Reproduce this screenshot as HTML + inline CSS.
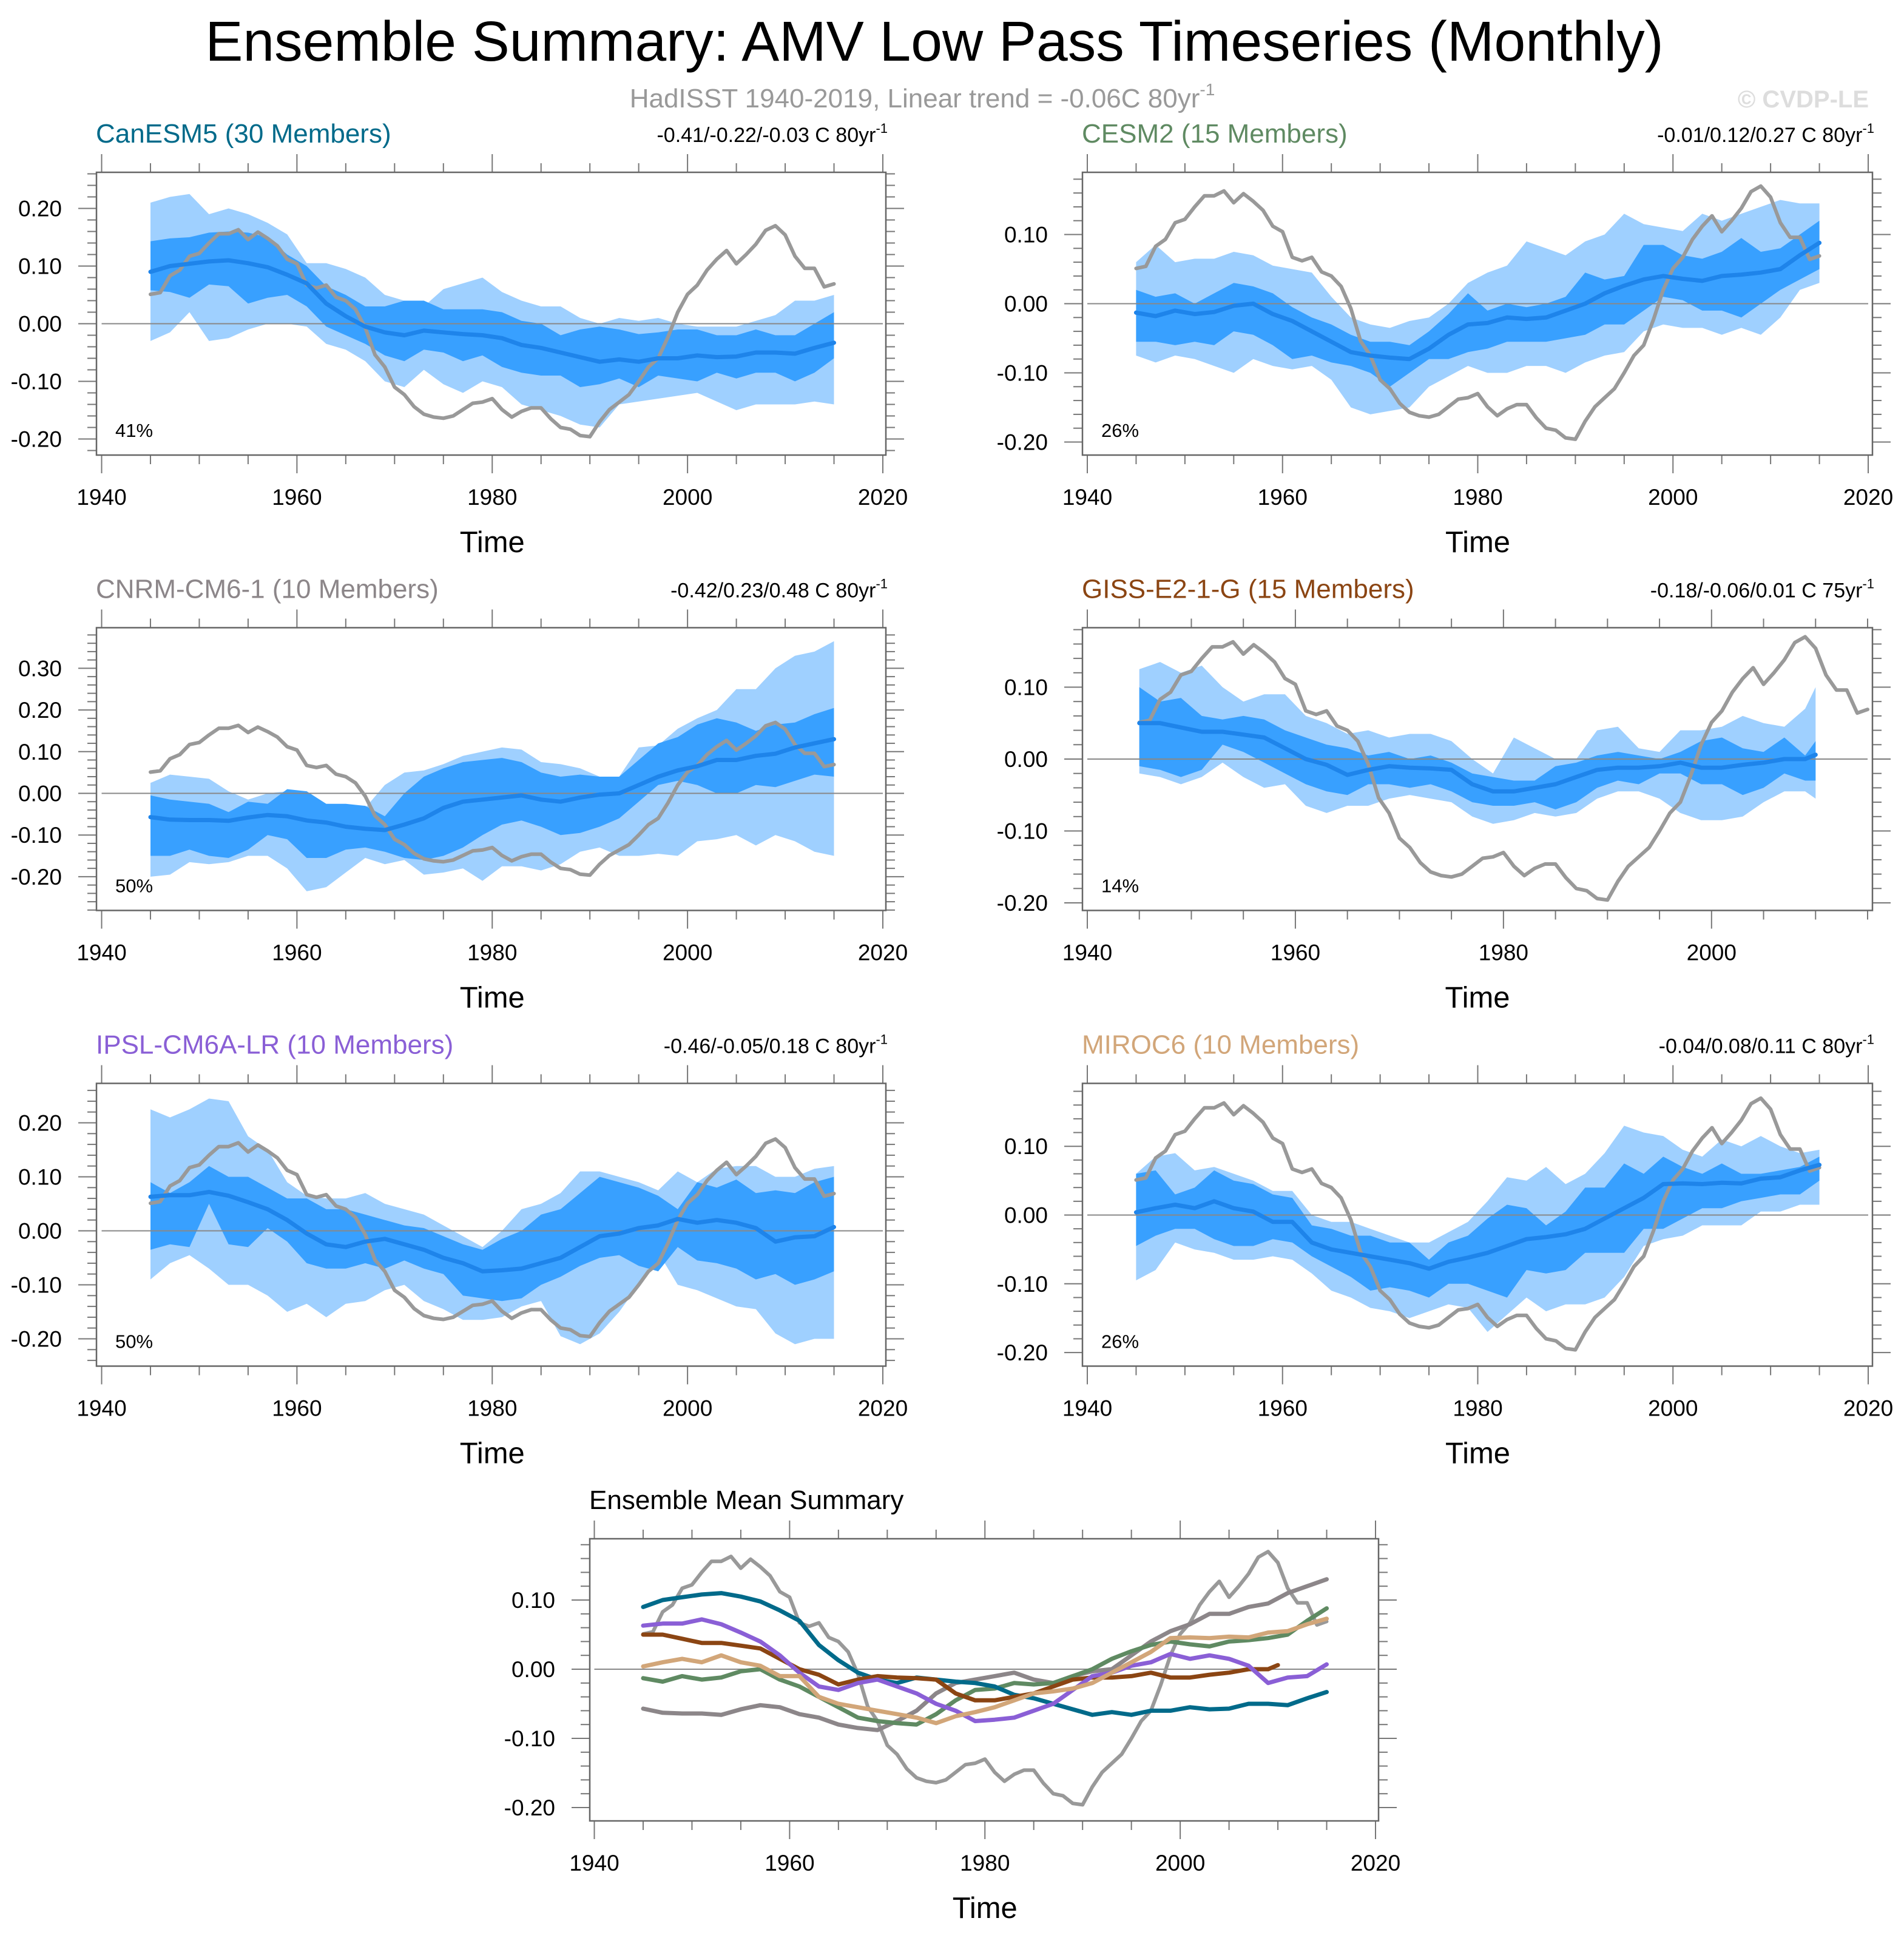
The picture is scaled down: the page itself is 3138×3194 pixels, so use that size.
<!DOCTYPE html>
<html><head><meta charset="utf-8"><title>Ensemble Summary: AMV Low Pass Timeseries</title>
<style>
html,body{margin:0;padding:0;background:#fff;}
svg{display:block;font-family:"Liberation Sans",Arial,sans-serif;}
</style></head>
<body>
<svg id="fig" xmlns="http://www.w3.org/2000/svg" width="3138" height="3194" viewBox="0 0 3138 3194">
<rect x="0" y="0" width="3138" height="3194" fill="#fff"/>
<text x="1540" y="100" font-size="93" text-anchor="middle" fill="#000">Ensemble Summary: AMV Low Pass Timeseries (Monthly)</text>
<text x="1520" y="177" font-size="44" text-anchor="middle" fill="#999">HadISST 1940-2019, Linear trend = -0.06C 80yr<tspan font-size="28" dy="-20">-1</tspan></text>
<text x="3080" y="177" font-size="40" font-weight="bold" text-anchor="end" fill="#ddd">© CVDP-LE</text>
</svg>
<script>
const obsYears=[1945,1946,1947,1948,1949,1950,1951,1952,1953,1954,1955,1956,1957,1958,1959,1960,1961,1962,1963,1964,1965,1966,1967,1968,1969,1970,1971,1972,1973,1974,1975,1976,1977,1978,1979,1980,1981,1982,1983,1984,1985,1986,1987,1988,1989,1990,1991,1992,1993,1994,1995,1996,1997,1998,1999,2000,2001,2002,2003,2004,2005,2006,2007,2008,2009,2010,2011,2012,2013,2014,2015];
const obsValues=[0.051,0.054,0.083,0.093,0.117,0.122,0.14,0.156,0.156,0.163,0.146,0.159,0.148,0.135,0.112,0.104,0.067,0.062,0.067,0.046,0.04,0.025,-0.007,-0.054,-0.075,-0.11,-0.123,-0.144,-0.157,-0.162,-0.164,-0.16,-0.149,-0.138,-0.136,-0.13,-0.149,-0.162,-0.152,-0.146,-0.146,-0.165,-0.18,-0.183,-0.194,-0.196,-0.17,-0.149,-0.136,-0.123,-0.10,-0.075,-0.06,-0.023,0.02,0.051,0.067,0.093,0.112,0.127,0.104,0.12,0.138,0.162,0.17,0.154,0.117,0.096,0.096,0.064,0.069];

const modelYears=[1945,1947,1949,1951,1953,1955,1957,1959,1961,1963,1965,1967,1969,1971,1973,1975,1977,1979,1981,1983,1985,1987,1989,1991,1993,1995,1997,1999,2001,2003,2005,2007,2009,2011,2013,2015];
const gissYears=[1945,1947,1949,1951,1953,1955,1957,1959,1961,1963,1965,1967,1969,1971,1973,1975,1977,1979,1981,1983,1985,1987,1989,1991,1993,1995,1997,1999,2001,2003,2005,2007,2009,2010];

const canMean=[0.09,0.1,0.104,0.108,0.11,0.105,0.098,0.085,0.07,0.035,0.013,-0.005,-0.015,-0.02,-0.012,-0.015,-0.018,-0.02,-0.025,-0.037,-0.042,-0.05,-0.058,-0.066,-0.062,-0.066,-0.06,-0.06,-0.055,-0.058,-0.057,-0.05,-0.05,-0.052,-0.042,-0.033];
const canP75=[0.143,0.148,0.15,0.158,0.16,0.158,0.15,0.12,0.1,0.065,0.05,0.03,0.03,0.04,0.04,0.025,0.025,0.025,0.02,0.005,0.0,-0.02,-0.01,-0.005,-0.01,-0.018,-0.015,-0.01,-0.01,-0.02,-0.02,-0.01,-0.02,-0.02,0.0,0.02];
const canP25=[0.058,0.055,0.045,0.068,0.065,0.035,0.045,0.05,0.03,-0.005,-0.02,-0.035,-0.055,-0.065,-0.045,-0.05,-0.065,-0.055,-0.075,-0.085,-0.09,-0.09,-0.11,-0.105,-0.095,-0.11,-0.09,-0.095,-0.1,-0.085,-0.095,-0.085,-0.085,-0.1,-0.085,-0.06];
const canP90=[0.21,0.22,0.225,0.19,0.2,0.19,0.175,0.155,0.105,0.105,0.095,0.08,0.05,0.04,0.03,0.06,0.07,0.08,0.055,0.04,0.03,0.03,0.01,0.0,0.01,0.005,0.01,0.0,-0.005,-0.005,-0.005,0.005,0.015,0.04,0.04,0.05];
const canP10=[-0.03,-0.015,0.02,-0.03,-0.025,-0.01,0.0,0.0,-0.005,-0.035,-0.045,-0.065,-0.1,-0.11,-0.08,-0.105,-0.12,-0.1,-0.11,-0.14,-0.15,-0.16,-0.175,-0.18,-0.14,-0.135,-0.13,-0.125,-0.12,-0.135,-0.15,-0.14,-0.14,-0.14,-0.135,-0.14];

const cesmMean=[-0.013,-0.018,-0.01,-0.015,-0.012,-0.003,0.0,-0.015,-0.025,-0.04,-0.055,-0.07,-0.075,-0.078,-0.08,-0.065,-0.045,-0.03,-0.028,-0.02,-0.022,-0.02,-0.01,0.0,0.015,0.026,0.035,0.04,0.036,0.033,0.04,0.042,0.045,0.05,0.07,0.088];
const cesmP75=[0.02,0.01,0.015,0.0,0.015,0.03,0.025,0.015,-0.005,-0.02,-0.03,-0.045,-0.055,-0.055,-0.06,-0.04,-0.015,0.015,-0.01,0.0,-0.005,0.0,0.01,0.045,0.035,0.04,0.085,0.085,0.07,0.065,0.075,0.095,0.075,0.08,0.1,0.12];
const cesmP25=[-0.055,-0.055,-0.06,-0.055,-0.06,-0.04,-0.045,-0.06,-0.08,-0.075,-0.085,-0.09,-0.1,-0.12,-0.1,-0.08,-0.08,-0.07,-0.065,-0.055,-0.055,-0.055,-0.05,-0.045,-0.03,-0.03,-0.01,0.01,0.005,-0.01,-0.01,-0.02,0.0,0.02,0.035,0.05];
const cesmP90=[0.06,0.085,0.06,0.065,0.065,0.075,0.07,0.055,0.05,0.045,0.01,-0.02,-0.03,-0.035,-0.025,-0.02,0.0,0.03,0.045,0.055,0.09,0.08,0.07,0.09,0.1,0.13,0.115,0.11,0.105,0.13,0.12,0.13,0.14,0.15,0.145,0.145];
const cesmP10=[-0.075,-0.085,-0.075,-0.08,-0.09,-0.1,-0.08,-0.09,-0.095,-0.09,-0.11,-0.15,-0.16,-0.155,-0.15,-0.12,-0.105,-0.09,-0.1,-0.1,-0.09,-0.09,-0.1,-0.085,-0.075,-0.07,-0.04,-0.03,-0.035,-0.035,-0.045,-0.035,-0.045,-0.02,0.02,0.03];

const cnrmMean=[-0.057,-0.063,-0.064,-0.064,-0.066,-0.058,-0.052,-0.055,-0.065,-0.07,-0.08,-0.085,-0.088,-0.075,-0.06,-0.035,-0.02,-0.015,-0.01,-0.005,-0.015,-0.02,-0.01,-0.003,0.0,0.02,0.04,0.055,0.065,0.08,0.08,0.09,0.095,0.11,0.12,0.13];
const cnrmP75=[-0.005,-0.015,-0.02,-0.025,-0.045,-0.02,-0.025,0.01,0.005,-0.025,-0.025,-0.03,-0.055,0.0,0.04,0.06,0.075,0.08,0.085,0.075,0.05,0.04,0.045,0.04,0.04,0.08,0.12,0.135,0.165,0.18,0.17,0.15,0.165,0.17,0.19,0.205];
const cnrmP25=[-0.15,-0.15,-0.135,-0.15,-0.155,-0.135,-0.1,-0.11,-0.155,-0.155,-0.135,-0.13,-0.14,-0.155,-0.16,-0.15,-0.13,-0.1,-0.075,-0.065,-0.08,-0.1,-0.095,-0.08,-0.06,-0.02,0.02,0.03,0.02,0.0,0.0,0.02,0.015,0.03,0.045,0.04];
const cnrmP90=[0.025,0.045,0.04,0.035,0.005,-0.015,0.0,0.005,0.005,-0.03,-0.03,-0.035,0.02,0.05,0.055,0.07,0.09,0.1,0.11,0.105,0.075,0.07,0.06,0.04,0.04,0.11,0.115,0.155,0.18,0.2,0.25,0.25,0.3,0.33,0.34,0.365];
const cnrmP10=[-0.2,-0.195,-0.165,-0.17,-0.165,-0.15,-0.15,-0.18,-0.235,-0.225,-0.19,-0.155,-0.17,-0.16,-0.195,-0.19,-0.18,-0.21,-0.175,-0.175,-0.185,-0.17,-0.14,-0.13,-0.15,-0.15,-0.145,-0.15,-0.115,-0.11,-0.1,-0.125,-0.1,-0.115,-0.14,-0.15];

const gissMean=[0.05,0.05,0.044,0.038,0.038,0.034,0.03,0.015,0.0,-0.008,-0.022,-0.015,-0.01,-0.012,-0.013,-0.015,-0.035,-0.045,-0.045,-0.04,-0.035,-0.025,-0.015,-0.012,-0.012,-0.01,-0.005,-0.012,-0.012,-0.008,-0.005,0.0,0.0,0.006];
const gissP75=[0.1,0.08,0.085,0.06,0.055,0.06,0.055,0.04,0.03,0.02,0.015,0.005,0.01,0.0,0.005,-0.005,-0.02,-0.025,-0.03,-0.03,-0.01,-0.005,0.005,0.01,0.005,0.0,0.01,0.025,0.03,0.015,0.01,0.03,0.005,0.025];
const gissP25=[-0.01,-0.015,-0.025,-0.015,0.02,0.01,-0.005,-0.02,-0.035,-0.045,-0.05,-0.035,-0.035,-0.04,-0.035,-0.045,-0.06,-0.065,-0.065,-0.06,-0.07,-0.06,-0.04,-0.03,-0.035,-0.02,-0.02,-0.035,-0.035,-0.05,-0.04,-0.02,-0.03,-0.03];
const gissP90=[0.125,0.135,0.12,0.13,0.1,0.08,0.09,0.09,0.06,0.05,0.035,0.04,0.03,0.035,0.035,0.025,0.0,-0.02,0.03,0.015,0.0,0.0,0.04,0.045,0.015,0.01,0.04,0.04,0.045,0.06,0.05,0.045,0.07,0.1];
const gissP10=[-0.02,-0.025,-0.035,-0.025,-0.005,-0.025,-0.04,-0.035,-0.065,-0.075,-0.065,-0.065,-0.055,-0.05,-0.055,-0.06,-0.08,-0.09,-0.085,-0.075,-0.08,-0.075,-0.055,-0.045,-0.045,-0.055,-0.075,-0.085,-0.085,-0.08,-0.06,-0.045,-0.045,-0.055];

const ipslMean=[0.063,0.066,0.066,0.072,0.065,0.053,0.04,0.02,-0.005,-0.025,-0.03,-0.02,-0.015,-0.025,-0.035,-0.05,-0.06,-0.075,-0.073,-0.07,-0.06,-0.05,-0.03,-0.01,-0.005,0.005,0.01,0.022,0.015,0.02,0.015,0.005,-0.02,-0.012,-0.01,0.007];
const ipslP75=[0.09,0.07,0.09,0.12,0.1,0.1,0.08,0.06,0.06,0.04,0.04,0.03,0.02,0.01,0.005,-0.01,-0.025,-0.035,-0.015,0.0,0.03,0.04,0.07,0.1,0.09,0.08,0.065,0.04,0.09,0.08,0.095,0.07,0.075,0.07,0.09,0.1];
const ipslP25=[-0.035,-0.025,-0.03,0.05,-0.025,-0.03,0.005,-0.02,-0.06,-0.07,-0.07,-0.06,-0.07,-0.055,-0.07,-0.08,-0.12,-0.125,-0.13,-0.125,-0.1,-0.085,-0.065,-0.05,-0.045,-0.065,-0.075,-0.03,-0.055,-0.06,-0.07,-0.09,-0.08,-0.1,-0.09,-0.075];
const ipslP90=[0.225,0.21,0.225,0.245,0.24,0.175,0.15,0.09,0.065,0.06,0.06,0.07,0.05,0.04,0.03,0.01,-0.01,-0.03,0.0,0.04,0.05,0.07,0.11,0.11,0.1,0.09,0.075,0.11,0.09,0.115,0.12,0.12,0.1,0.1,0.115,0.12];
const ipslP10=[-0.09,-0.06,-0.045,-0.07,-0.1,-0.1,-0.12,-0.15,-0.135,-0.16,-0.135,-0.13,-0.11,-0.1,-0.13,-0.145,-0.165,-0.165,-0.16,-0.14,-0.13,-0.195,-0.21,-0.19,-0.15,-0.1,-0.04,-0.1,-0.11,-0.125,-0.14,-0.145,-0.19,-0.21,-0.2,-0.2];

const mirocMean=[0.004,0.01,0.015,0.01,0.02,0.01,0.005,-0.01,-0.01,-0.04,-0.05,-0.055,-0.06,-0.065,-0.07,-0.078,-0.068,-0.062,-0.055,-0.045,-0.035,-0.032,-0.028,-0.02,-0.005,0.01,0.025,0.045,0.046,0.045,0.047,0.046,0.053,0.055,0.065,0.073];
const mirocP75=[0.06,0.065,0.03,0.04,0.065,0.05,0.045,0.03,0.025,-0.015,-0.02,-0.03,-0.03,-0.04,-0.04,-0.065,-0.04,-0.03,-0.005,0.015,0.01,-0.015,0.005,0.04,0.04,0.075,0.06,0.085,0.07,0.06,0.075,0.06,0.06,0.065,0.07,0.085];
const mirocP25=[-0.045,-0.03,-0.02,-0.02,-0.035,-0.045,-0.045,-0.035,-0.04,-0.06,-0.075,-0.09,-0.11,-0.105,-0.11,-0.12,-0.1,-0.1,-0.11,-0.12,-0.08,-0.085,-0.08,-0.055,-0.055,-0.055,-0.02,-0.02,-0.005,0.01,0.01,0.02,0.025,0.03,0.03,0.05];
const mirocP90=[0.06,0.085,0.09,0.065,0.07,0.06,0.05,0.035,0.035,0.0,-0.01,-0.01,-0.02,-0.03,-0.04,-0.04,-0.025,-0.01,0.02,0.055,0.05,0.07,0.045,0.06,0.09,0.13,0.12,0.115,0.095,0.085,0.11,0.1,0.115,0.1,0.09,0.095];
const mirocP10=[-0.095,-0.08,-0.04,-0.05,-0.055,-0.065,-0.065,-0.06,-0.065,-0.085,-0.11,-0.12,-0.135,-0.14,-0.15,-0.14,-0.13,-0.135,-0.17,-0.145,-0.12,-0.14,-0.13,-0.13,-0.12,-0.09,-0.045,-0.035,-0.03,-0.015,-0.015,-0.015,0.005,0.005,0.015,0.015];

const yLabels1=[-0.2,-0.1,0,0.1,0.2];
const yLabels2=[-0.2,-0.1,0,0.1];
const yLabels3=[-0.2,-0.1,0,0.1,0.2,0.3];
const xLabels=[1940,1960,1980,2000,2020];
const xLabelsGiss=[1940,1960,1980,2000];

const NS='http://www.w3.org/2000/svg';
const svg=document.getElementById('fig');
function el(tag,attrs,parent){const e=document.createElementNS(NS,tag);for(const k in attrs)e.setAttribute(k,attrs[k]);(parent||svg).appendChild(e);return e;}
function fmt(v){return (v<0?'-':'')+Math.abs(v).toFixed(2);}

function drawPanel(c){
  const g=el('g',{});
  
  
  const L=c.box[0],T=c.box[1],R=c.box[2],B=c.box[3];
  const sx=v=>c.px0+(v-c.yr0)*(c.px1-c.px0)/(c.yr1-c.yr0);
  const sy=v=>c.zeroY-v*c.per01*100;
  for(let yr=c.yr0;yr<=c.tickMax;yr+=5){
    const major=(yr%20===0);const x=sx(yr);
    const t1=el('line',{x1:x,x2:x,y1:B,y2:B+(major?30:15),stroke:'#777','stroke-width':2},g);
    
    
    const t2=el('line',{x1:x,x2:x,y1:T,y2:T-(major?30:15),stroke:'#777','stroke-width':2},g);
    
    
  }
  c.xLabels.forEach(v=>{
    const t=el('text',{x:sx(v),y:B+82,'font-size':37,'text-anchor':'middle',fill:'#000'},g);
    t.textContent=v;
    
    
  });
  const vTop=(c.zeroY-T)/(c.per01*100), vBot=(c.zeroY-B)/(c.per01*100);
  for(let k=Math.ceil(vBot/0.02-1e-6);k*0.02<=vTop+1e-9;k++){
    const v=k*0.02;const y=sy(v);
    const major=(k%5===0);
    const a=el('line',{x1:L,x2:L-(major?30:15),y1:y,y2:y,stroke:'#777','stroke-width':2},g);
    
    
    const b=el('line',{x1:R,x2:R+(major?30:15),y1:y,y2:y,stroke:'#777','stroke-width':2},g);
    
    
  }
  c.yLabels.forEach(v=>{
    const t=el('text',{x:L-57,y:sy(v)+13,'font-size':37,'text-anchor':'end',fill:'#000'},g);
    t.textContent=fmt(v);
    
    
  });
  if(c.years){
    const band=(hi,lo,col,nm)=>{
      let pts=c.years.map((yr,i)=>sx(yr).toFixed(1)+','+sy(hi[i]).toFixed(1));
      for(let i=c.years.length-1;i>=0;i--)pts.push(sx(c.years[i]).toFixed(1)+','+sy(lo[i]).toFixed(1));
      const p=el('polygon',{points:pts.join(' '),fill:col},g);
      
      
    };
    band(c.p90,c.p10,'#9fd0ff','band-10-90');
    band(c.p75,c.p25,'#38a0ff','band-25-75');
  }
  const z=el('line',{x1:sx(1940),x2:sx(c.tickMax),y1:sy(0),y2:sy(0),stroke:'#888','stroke-width':2},g);
  
  
  const obs=el('polyline',{points:obsYears.map((yr,i)=>sx(yr).toFixed(1)+','+sy(obsValues[i]).toFixed(1)).join(' '),fill:'none',stroke:'#999','stroke-width':6,'stroke-linejoin':'round','stroke-linecap':'round'},g);
  
  
  if(c.years){
    const m=el('polyline',{points:c.years.map((yr,i)=>sx(yr).toFixed(1)+','+sy(c.mean[i]).toFixed(1)).join(' '),fill:'none',stroke:'#1e84ea','stroke-width':7,'stroke-linejoin':'round','stroke-linecap':'round'},g);
    
    
  }
  if(c.lines){
    c.lines.forEach(ln=>{
      const m=el('polyline',{points:ln.years.map((yr,i)=>sx(yr).toFixed(1)+','+sy(ln.vals[i]).toFixed(1)).join(' '),fill:'none',stroke:ln.color,'stroke-width':7,'stroke-linejoin':'round','stroke-linecap':'round'},g);
      
      
    });
  }
  const bx=el('rect',{x:L,y:T,width:R-L,height:B-T,fill:'none',stroke:'#666','stroke-width':2.5},g);
  
  
  const tt=el('text',{x:L-1,y:T-49,'font-size':44,fill:c.color},g);
  tt.textContent=c.title;
  
  
  if(c.trend){
    const tr=el('text',{x:R+3,y:T-50,'font-size':34,'text-anchor':'end',fill:'#000'},g);
    
    
    tr.appendChild(document.createTextNode(c.trend));
    const sup=el('tspan',{'font-size':22,dy:-15},tr);
    sup.textContent='-1';
  }
  if(c.pct){
    const pc=el('text',{x:L+31,y:B-30,'font-size':31,fill:'#000'},g);
    pc.textContent=c.pct;
    
    
  }
  const xt=el('text',{x:(sx(1940)+sx(c.tickMax))/2,y:B+160,'font-size':49,'text-anchor':'middle',fill:'#000'},g);
  xt.textContent='Time';
  
  
}

const LC={box:[159,0,1460,0],yr0:1940,px0:167.5,yr1:2020,px1:1455,tickMax:2020,xLabels:xLabels};
const RC={box:[1784,0,3086,0],yr0:1940,px0:1792,yr1:2020,px1:3079,tickMax:2020,xLabels:xLabels};
function P(base,top,extra){const c=Object.assign({},base,extra);c.box=[base.box[0],top,base.box[2],top+466];return c;}

drawPanel(P(LC,284,{name:'panel-canesm5',zeroY:533.5,per01:9.5,yLabels:yLabels1,title:'CanESM5 (30 Members)',color:'#006a8a',trend:'-0.41/-0.22/-0.03 C 80yr',pct:'41%',years:modelYears,mean:canMean,p10:canP10,p25:canP25,p75:canP75,p90:canP90}));
drawPanel(P(RC,284,{name:'panel-cesm2',zeroY:500.5,per01:11.4,yLabels:yLabels2,title:'CESM2 (15 Members)',color:'#5f8a62',trend:'-0.01/0.12/0.27 C 80yr',pct:'26%',years:modelYears,mean:cesmMean,p10:cesmP10,p25:cesmP25,p75:cesmP75,p90:cesmP90}));
drawPanel(P(LC,1034.5,{name:'panel-cnrm-cm6-1',zeroY:1307.5,per01:6.87,yLabels:yLabels3,title:'CNRM-CM6-1 (10 Members)',color:'#8c8689',trend:'-0.42/0.23/0.48 C 80yr',pct:'50%',years:modelYears,mean:cnrmMean,p10:cnrmP10,p25:cnrmP25,p75:cnrmP75,p90:cnrmP90}));
drawPanel(P(Object.assign({},RC,{yr1:2015,px1:3078,tickMax:2015,xLabels:xLabelsGiss}),1034.5,{name:'panel-giss-e2-1-g',zeroY:1251,per01:11.85,yLabels:yLabels2,title:'GISS-E2-1-G (15 Members)',color:'#8b4513',trend:'-0.18/-0.06/0.01 C 75yr',pct:'14%',years:gissYears,mean:gissMean,p10:gissP10,p25:gissP25,p75:gissP75,p90:gissP90}));
drawPanel(P(LC,1785.5,{name:'panel-ipsl-cm6a-lr',zeroY:2028.5,per01:8.9,yLabels:yLabels1,title:'IPSL-CM6A-LR (10 Members)',color:'#8a5fd6',trend:'-0.46/-0.05/0.18 C 80yr',pct:'50%',years:modelYears,mean:ipslMean,p10:ipslP10,p25:ipslP25,p75:ipslP75,p90:ipslP90}));
drawPanel(P(RC,1785.5,{name:'panel-miroc6',zeroY:2002.5,per01:11.33,yLabels:yLabels2,title:'MIROC6 (10 Members)',color:'#d2a679',trend:'-0.04/0.08/0.11 C 80yr',pct:'26%',years:modelYears,mean:mirocMean,p10:mirocP10,p25:mirocP25,p75:mirocP75,p90:mirocP90}));

drawPanel({name:'panel-ensemble-mean-summary',box:[972,2536,2272,3001],yr0:1940,px0:979.5,yr1:2020,px1:2267,tickMax:2020,xLabels:xLabels,zeroY:2751,per01:11.4,yLabels:yLabels2,title:'Ensemble Mean Summary',color:'#000',
 lines:[
  {name:'mean-cnrm-cm6-1',years:modelYears,vals:cnrmMean,color:'#8c8689'},
  {name:'mean-cesm2',years:modelYears,vals:cesmMean,color:'#5f8a62'},
  {name:'mean-canesm5',years:modelYears,vals:canMean,color:'#006a8a'},
  {name:'mean-giss-e2-1-g',years:gissYears,vals:gissMean,color:'#8b4513'},
  {name:'mean-ipsl-cm6a-lr',years:modelYears,vals:ipslMean,color:'#8a5fd6'},
  {name:'mean-miroc6',years:modelYears,vals:mirocMean,color:'#d2a679'}
 ]});
</script>
</body></html>
